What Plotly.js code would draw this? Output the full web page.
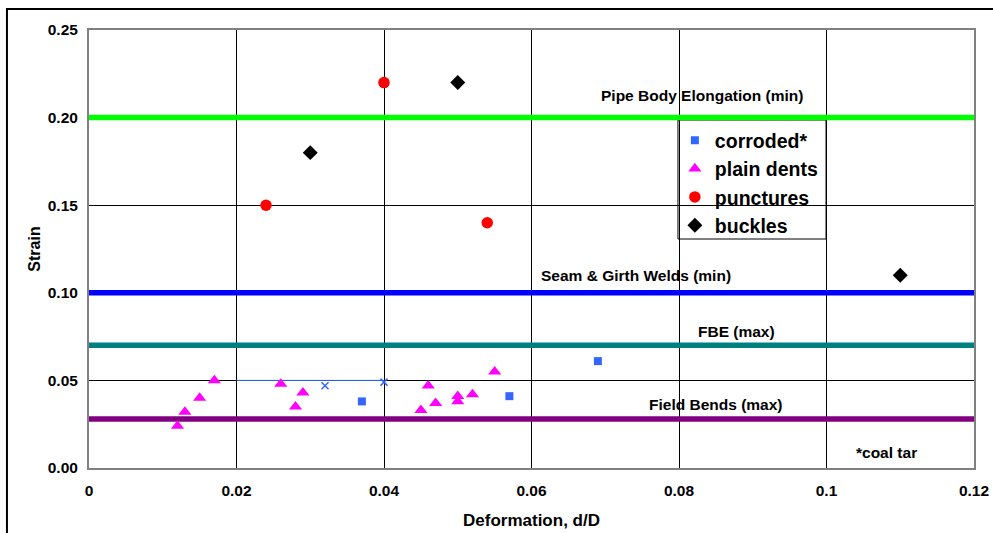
<!DOCTYPE html>
<html>
<head>
<meta charset="utf-8">
<script src="https://cdn.plot.ly/plotly-3.0.1.min.js"></script>
<style>
html,body{margin:0;padding:0;background:#fff;}
#chart{width:993px;height:533px;}
</style>
</head>
<body>
<div id="chart"></div>
<script>
// ---- data ----
const corrodedX = [0.037, 0.057, 0.069];
const corrodedY = [0.038, 0.041, 0.061];

const dentsX = [0.012, 0.013, 0.015, 0.017, 0.026, 0.029, 0.028, 0.046, 0.045, 0.047, 0.050, 0.050, 0.052, 0.055];
const dentsY = [0.024, 0.032, 0.040, 0.050, 0.048, 0.043, 0.035, 0.047, 0.033, 0.037, 0.041, 0.038, 0.042, 0.055];

const puncturesX = [0.024, 0.040, 0.054];
const puncturesY = [0.150, 0.220, 0.140];

const bucklesX = [0.030, 0.050, 0.110];
const bucklesY = [0.180, 0.220, 0.110];

const coalTarX = [0.032, 0.040];
const coalTarY = [0.047, 0.049];

const thinLineX = [0.02, 0.04];
const thinLineY = [0.05, 0.05];

const limitNames = ['Pipe Body Elongation (min)', 'Seam & Girth Welds (min)', 'FBE (max)', 'Field Bends (max)'];
const limitValues = [0.20, 0.10, 0.07, 0.028];
const limitColors = ['#00ff00', '#0000ff', '#008080', '#800080'];
const limitSpanX = [0, 0.12];

const footnote = '*coal tar';

// ---- chart ----
const FONT = 'Liberation Sans, Arial, sans-serif';
const traces = [];

limitValues.forEach((v, i) => {
  traces.push({
    type: 'scatter', mode: 'lines', name: limitNames[i],
    x: limitSpanX, y: [v, v],
    line: {color: limitColors[i], width: 5.5},
    showlegend: false, hoverinfo: 'skip'
  });
});

traces.push({
  type: 'scatter', mode: 'lines', x: thinLineX, y: thinLineY,
  line: {color: '#3366ff', width: 1}, showlegend: false, hoverinfo: 'skip'
});
traces.push({
  type: 'scatter', mode: 'markers', x: coalTarX, y: coalTarY,
  marker: {symbol: 'x-thin', size: 7, color: '#3366ff', line: {color: '#3366ff', width: 1.5}},
  showlegend: false
});

traces.push({
  type: 'scatter', mode: 'markers', name: 'corroded*', x: corrodedX, y: corrodedY,
  marker: {symbol: 'square', size: 8, color: '#3366ff', line: {width: 0}}
});
traces.push({
  type: 'scatter', mode: 'markers', name: 'plain dents', x: dentsX, y: dentsY,
  marker: {symbol: 'triangle-up', size: 11.5, color: '#ff00ff', line: {width: 0}}
});
traces.push({
  type: 'scatter', mode: 'markers', name: 'punctures', x: puncturesX, y: puncturesY,
  marker: {symbol: 'circle', size: 11.5, color: '#ff0000', line: {width: 0}}
});
traces.push({
  type: 'scatter', mode: 'markers', name: 'buckles', x: bucklesX, y: bucklesY,
  marker: {symbol: 'diamond', size: 11.5, color: '#000000', line: {width: 0}}
});

const annPos = [
  {x: 0.6932, y: 0.850},
  {x: 0.6181, y: 0.4384},
  {x: 0.7311, y: 0.3112},
  {x: 0.7085, y: 0.1461}
];
const annotations = limitNames.map((t, i) => ({
  xref: 'paper', yref: 'paper', x: annPos[i].x, y: annPos[i].y,
  xanchor: 'center', yanchor: 'middle', showarrow: false, text: t,
  font: {family: FONT, size: 15.5, weight: 'bold', color: '#000'}
}));
annotations.push({
  xref: 'paper', yref: 'paper', x: 0.9006, y: 0.0365,
  xanchor: 'center', yanchor: 'middle', showarrow: false, text: footnote,
  font: {family: FONT, size: 15.5, weight: 'bold', color: '#000'}
});

const layout = {
  width: 993, height: 533,
  margin: {l: 89, r: 19, t: 30, b: 65},
  paper_bgcolor: '#ffffff', plot_bgcolor: '#ffffff',
  showlegend: true,
  legend: {
    x: 0.662, y: 0.7922, xanchor: 'left', yanchor: 'top',
    bgcolor: 'rgba(0,0,0,0)', borderwidth: 0,
    font: {family: FONT, size: 19.5, weight: 'bold', color: '#000'}
  },
  xaxis: {
    range: [0, 0.12], dtick: 0.02, tick0: 0,
    showgrid: true, gridcolor: '#000000', gridwidth: 1,
    zeroline: false, showline: true, linecolor: '#808080', linewidth: 2, mirror: true,
    ticks: '', ticklabelstandoff: 7,
    tickfont: {family: FONT, size: 15.5, weight: 'bold', color: '#000'},
    title: {text: 'Deformation, d/D', standoff: 17, font: {family: FONT, size: 17, weight: 'bold', color: '#000'}}
  },
  yaxis: {
    range: [0, 0.25], dtick: 0.05, tick0: 0, tickformat: '.2f',
    showgrid: true, gridcolor: '#000000', gridwidth: 1,
    zeroline: false, showline: true, linecolor: '#808080', linewidth: 2, mirror: true,
    ticks: '', ticklabelstandoff: 6,
    tickfont: {family: FONT, size: 15.5, weight: 'bold', color: '#000'},
    title: {text: 'Strain', standoff: 3, font: {family: FONT, size: 16, weight: 'bold', color: '#000'}}
  },
  shapes: [
    {type: 'rect', xref: 'paper', yref: 'paper', x0: 0.6655, x1: 0.8328, y0: 0.5228, y1: 0.7945,
     fillcolor: '#ffffff', line: {color: '#000000', width: 1}, layer: 'between'},
    {type: 'rect', xref: 'paper', yref: 'paper', x0: -0.0927, x1: 1.06, y0: -0.2, y1: 1.0479,
     fillcolor: 'rgba(0,0,0,0)', line: {color: '#000000', width: 2}, layer: 'above'}
  ],
  annotations: annotations
};

Plotly.newPlot('chart', traces, layout, {staticPlot: true, displayModeBar: false});
</script>
</body>
</html>
